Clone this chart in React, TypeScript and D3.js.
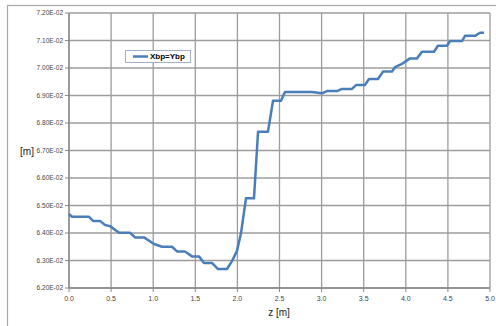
import React from "react";
import * as d3 from "d3";

// Beam position along z (m)
const zValues = [
  0, 0.036, 0.238, 0.285, 0.368, 0.428, 0.487, 0.594, 0.724, 0.784, 0.891, 1.01, 1.105, 1.223,
  1.283, 1.378, 1.461, 1.544, 1.603, 1.698, 1.77, 1.876, 1.936, 1.995, 2.043, 2.102, 2.197,
  2.245, 2.363, 2.423, 2.518, 2.565, 2.886, 3.005, 3.064, 3.183, 3.242, 3.361, 3.409, 3.515,
  3.563, 3.67, 3.729, 3.836, 3.872, 3.955, 4.05, 4.133, 4.192, 4.335, 4.382, 4.489, 4.525,
  4.667, 4.703, 4.822, 4.881, 4.929,
];

// Xbp = Ybp (m)
const bpValues = [
  0.06469, 0.06459, 0.06459, 0.06444, 0.06444, 0.06429, 0.06425, 0.06401, 0.06401, 0.06384,
  0.06384, 0.0636, 0.0635, 0.0635, 0.06333, 0.06333, 0.06315, 0.06315, 0.06291, 0.06291,
  0.06269, 0.06269, 0.06298, 0.06335, 0.064, 0.06526, 0.06526, 0.06768, 0.06768, 0.06881,
  0.06881, 0.06913, 0.06913, 0.06908, 0.06916, 0.06916, 0.06924, 0.06924, 0.06938, 0.06938,
  0.0696, 0.0696, 0.06987, 0.06987, 0.07003, 0.07015, 0.07035, 0.07035, 0.07059, 0.07059,
  0.07081, 0.07081, 0.07098, 0.07098, 0.07117, 0.07117, 0.07128, 0.07128,
];

const xTicks = [0, 0.5, 1, 1.5, 2, 2.5, 3, 3.5, 4, 4.5, 5];
const yTicks = [0.062, 0.063, 0.064, 0.065, 0.066, 0.067, 0.068, 0.069, 0.07, 0.071, 0.072];
const seriesName = "Xbp=Ybp";

const W = 496;
const H = 326;
const plot = { left: 69, right: 490, top: 13, bottom: 288 };

export default function App() {
  const x = d3.scaleLinear().domain([0, 5]).range([plot.left, plot.right]);
  const y = d3.scaleLinear().domain([0.062, 0.072]).range([plot.bottom, plot.top]);
  const points: [number, number][] = zValues.map((z, i) => [z, bpValues[i]]);
  const line = d3
    .line<[number, number]>()
    .x((d) => x(d[0]))
    .y((d) => y(d[1]));

  const fmtY = (v: number) => {
    const s = (v * 100).toFixed(2);
    return `${s}E-02`;
  };
  const grid = "#9c9c9c";
  const font = "Liberation Sans, Arial, sans-serif";

  return (
    <svg
      width={W}
      height={H}
      style={{ position: "absolute", left: 0, top: 0, background: "#fff" }}
      fontFamily={font}
    >
      <rect x={7.5} y={5.5} width={500} height={330} fill="#fff" stroke="#a8a8a8" strokeWidth={1.2} />
      {/* grid */}
      {xTicks.map((t) => (
        <line key={"gx" + t} x1={x(t)} x2={x(t)} y1={plot.top} y2={plot.bottom} stroke={grid} strokeWidth={1.3} />
      ))}
      {yTicks.map((t) => (
        <line key={"gy" + t} x1={plot.left} x2={plot.right} y1={y(t)} y2={y(t)} stroke={grid} strokeWidth={1.3} />
      ))}
      {/* axes */}
      <line x1={plot.left} x2={plot.left} y1={plot.top} y2={plot.bottom} stroke="#888" strokeWidth={1.3} />
      <line x1={plot.left} x2={plot.right} y1={plot.bottom} y2={plot.bottom} stroke="#888" strokeWidth={1.3} />
      {yTicks.map((t) => (
        <g key={"ty" + t}>
          <line x1={plot.left - 4} x2={plot.left} y1={y(t)} y2={y(t)} stroke="#888" strokeWidth={1} />
          <text x={plot.left - 6} y={y(t)} dy="0.35em" textAnchor="end" fontSize={6.5} fill="#444">
            {fmtY(t)}
          </text>
        </g>
      ))}
      {xTicks.map((t) => (
        <g key={"tx" + t}>
          <line x1={x(t)} x2={x(t)} y1={plot.bottom} y2={plot.bottom + 4} stroke="#888" strokeWidth={1} />
          <text x={x(t)} y={plot.bottom + 13} textAnchor="middle" fontSize={7} fill="#444">
            {t.toFixed(1)}
          </text>
        </g>
      ))}
      <text x={279} y={316} textAnchor="middle" fontSize={10} fill="#222">
        z [m]
      </text>
      <text x={27} y={155} textAnchor="middle" fontSize={10} fill="#222">
        [m]
      </text>
      {/* series */}
      <path d={line(points) ?? ""} fill="none" stroke="#4a7ebb" strokeWidth={2.5} strokeLinejoin="round" />
      {/* legend */}
      <rect x={125.5} y={50.5} width={65} height={12} fill="#fff" stroke="#9fb0c8" strokeWidth={1} />
      <line x1={133} x2={148} y1={56.5} y2={56.5} stroke="#4a7ebb" strokeWidth={2.5} />
      <text x={150} y={56.5} dy="0.35em" fontSize={8} fontWeight="bold" fill="#000">
        {seriesName}
      </text>
    </svg>
  );
}
